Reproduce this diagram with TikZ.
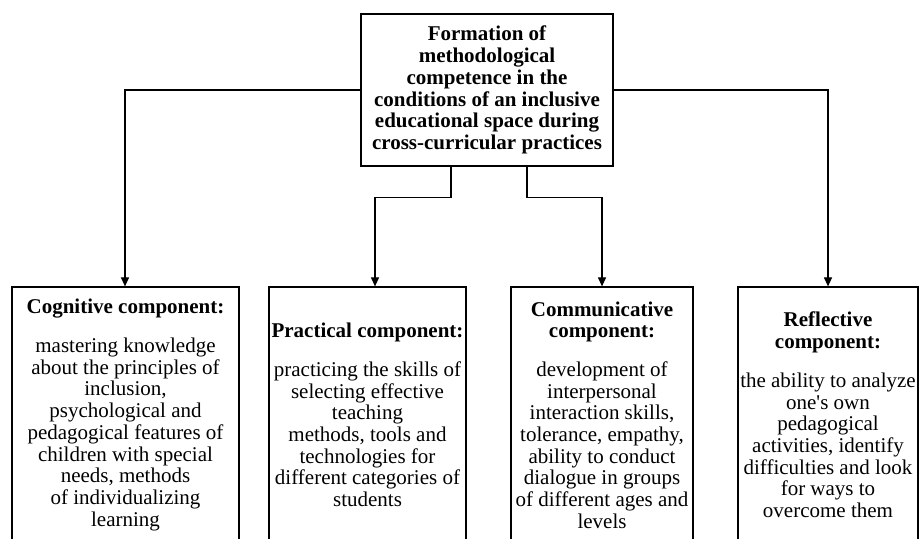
\documentclass[tikz,border=0pt]{standalone}
\usepackage{fontspec}
\setmainfont{Liberation Serif}
\usepackage{tikz}
\usetikzlibrary{arrows.meta}

\begin{document}
\begin{tikzpicture}[x=1pt, y=1pt,
    box/.style={draw, line width=1.2pt, inner sep=0pt, align=center,
        font=\fontsize{21}{21.7}\selectfont},
    arrow/.style={line width=1.2pt, -{Triangle[length=9pt, width=8pt]}}]
    \path[use as bounding box] (0,0) rectangle (920,538);
    \clip (0,0) rectangle (920,538);

    % main goal
    \node[box, minimum width=252pt, minimum height=152pt] (goal) at (487,448)
        {\bfseries Formation of\\ \bfseries methodological\\ \bfseries competence in the\\
         \bfseries conditions of an inclusive\\ \bfseries educational space during\\
         \bfseries cross-curricular practices};

    % the four components (bottom edges run off the page)
    \node[box, minimum width=227pt, minimum height=256pt] (cog) at (125.5,123)
        {\textbf{Cognitive component:}\\[17pt]
         mastering knowledge\\ about the principles of\\ inclusion,\\ psychological and\\
         pedagogical features of\\ children with special\\ needs, methods\\
         of individualizing\\ learning};
    \node[box, minimum width=197pt, minimum height=256pt] (prac) at (367.5,123)
        {\textbf{Practical component:}\\[17pt]
         practicing the skills of\\ selecting effective\\ teaching\\ methods, tools and\\
         technologies for\\ different categories of\\ students};
    \node[box, minimum width=182pt, minimum height=256pt] (comm) at (602,123)
        {\textbf{Communicative}\\ \textbf{component:}\\[17pt]
         development of\\ interpersonal\\ interaction skills,\\ tolerance, empathy,\\
         ability to conduct\\ dialogue in groups\\ of different ages and\\ levels};
    \node[box, minimum width=180pt, minimum height=256pt] (refl) at (828,123)
        {\textbf{Reflective}\\ \textbf{component:}\\[17pt]
         the ability to analyze\\ one\textquotesingle s own\\ pedagogical\\
         activities, identify\\ difficulties and look\\ for ways to\\ overcome them};

    % connectors
    \draw[arrow] (goal.west) -| ([xshift=-0.5pt]cog.north);
    \draw[arrow] (goal.east) -| (refl.north);
    \draw[arrow] ([xshift=-36pt]goal.south) -- ++(0,-31) -| ([xshift=7.5pt]prac.north);
    \draw[arrow] ([xshift=40pt]goal.south) -- ++(0,-31) -| (comm.north);
\end{tikzpicture}
\end{document}
